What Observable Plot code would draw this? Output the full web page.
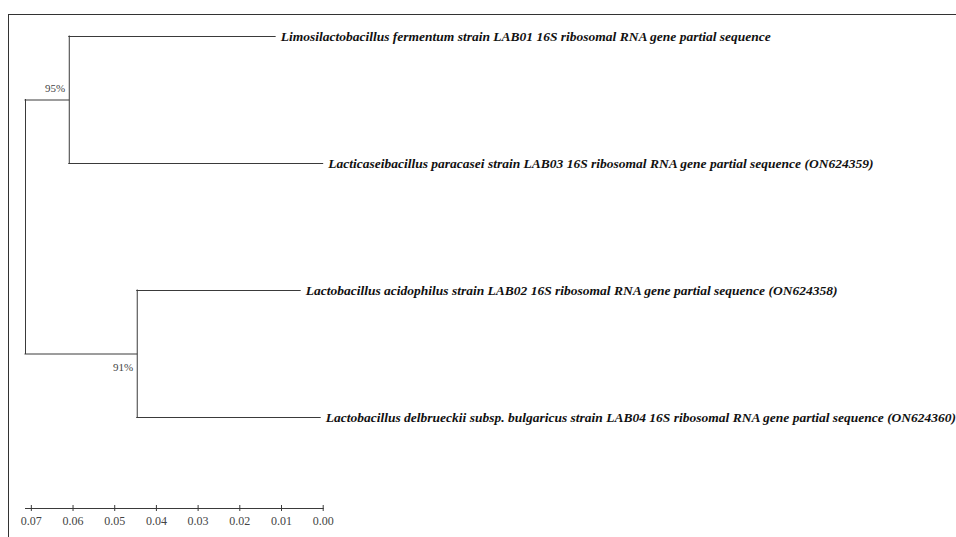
<!DOCTYPE html>
<html>
<head>
<meta charset="utf-8">
<script src="https://cdn.jsdelivr.net/npm/d3@7"></script>
<script src="https://cdn.jsdelivr.net/npm/@observablehq/plot@0.6"></script>
<style>
  html, body { margin: 0; padding: 0; background: #fff; }
  #wrap { position: relative; width: 956px; height: 537px; overflow: hidden; }
  #frame { position: absolute; left: 8px; top: 14px; right: -2px; bottom: -2px;
           border-top: 1px solid #333; border-left: 1px solid #333; }
  #chart { position: absolute; left: 0; top: 0; }
  #chart svg { display: block; }
</style>
</head>
<body>
<div id="wrap">
  <div id="frame"></div>
  <div id="chart"></div>
</div>
<script>
// Taxa in tree order (top to bottom)
const taxa = [
  "Limosilactobacillus fermentum strain LAB01 16S ribosomal RNA gene partial sequence",
  "Lacticaseibacillus paracasei strain LAB03 16S ribosomal RNA gene partial sequence (ON624359)",
  "Lactobacillus acidophilus strain LAB02 16S ribosomal RNA gene partial sequence (ON624358)",
  "Lactobacillus delbrueckii subsp. bulgaricus strain LAB04 16S ribosomal RNA gene partial sequence (ON624360)"
];
// Position of each tip on the distance scale
const tipDepth = [0.0114, 0.0000, 0.0054, 0.0006];
// Two clades: taxa 0–1 and taxa 2–3
const cladeMembers = [[0, 1], [2, 3]];
const cladeDepth = [0.0609, 0.0446];
const cladeSupport = ["95%", "91%"];
const rootDepth = 0.0714;
// Scale bar ticks
const scaleTicks = [0.07, 0.06, 0.05, 0.04, 0.03, 0.02, 0.01, 0.00];

// Build branch segments
const horiz = [];
const vert = [];
const nodes = [];
cladeMembers.forEach((members, c) => {
  const mid = d3.mean(members);
  members.forEach(i => horiz.push({x1: cladeDepth[c], x2: tipDepth[i], y: i}));
  vert.push({x: cladeDepth[c], y1: d3.min(members), y2: d3.max(members)});
  horiz.push({x1: rootDepth, x2: cladeDepth[c], y: mid});
  nodes.push({x: cladeDepth[c], y: mid, label: cladeSupport[c], c});
});
const cladeMids = cladeMembers.map(m => d3.mean(m));
vert.push({x: rootDepth, y1: d3.min(cladeMids), y2: d3.max(cladeMids)});

const tips = taxa.map((name, i) => ({name, x: tipDepth[i], y: i}));

const serif = "'Liberation Serif', 'Times New Roman', serif";
const lineColor = "#3a3a3a";

const chart = Plot.plot({
  width: 956,
  height: 537,
  marginLeft: 25,
  marginRight: 633.3,
  marginTop: 0,
  marginBottom: 29,
  style: {background: "transparent", overflow: "visible"},
  x: {domain: [rootDepth, 0], axis: null},
  y: {domain: [0, 3], range: [36, 417], axis: null},
  marks: [
    // branches
    Plot.ruleY(horiz, {x1: "x1", x2: "x2", y: "y", stroke: lineColor, strokeWidth: 1, strokeLinecap: "square"}),
    Plot.ruleX(vert, {x: "x", y1: "y1", y2: "y2", stroke: lineColor, strokeWidth: 1, strokeLinecap: "square"}),
    // taxon labels
    Plot.text(tips, {
      x: "x", y: "y", text: "name", textAnchor: "start", lineAnchor: "middle",
      dx: 5, fontFamily: serif, fontWeight: "bold", fontStyle: "italic",
      fontSize: 13.5, fill: "#111"
    }),
    // bootstrap support
    Plot.text(nodes.filter(d => d.c === 0), {
      x: "x", y: "y", text: "label", textAnchor: "end", lineAnchor: "middle",
      dx: -4, dy: -12, fontFamily: serif, fontSize: 11, fill: "#444"
    }),
    Plot.text(nodes.filter(d => d.c === 1), {
      x: "x", y: "y", text: "label", textAnchor: "end", lineAnchor: "middle",
      dx: -4, dy: 13, fontFamily: serif, fontSize: 11, fill: "#444"
    }),
    // scale bar
    Plot.frame({anchor: "bottom", stroke: lineColor, strokeWidth: 1}),
    Plot.axisX({
      anchor: "bottom", ticks: scaleTicks, tickSize: 6, dy: -3,
      tickFormat: () => "", label: null, stroke: lineColor
    }),
    Plot.axisX({
      anchor: "bottom", ticks: scaleTicks, tickSize: 0, tickPadding: 8,
      tickFormat: d3.format(".2f"), label: null,
      fontFamily: serif, fontSize: 12, fill: "#444"
    })
  ]
});

document.getElementById("chart").appendChild(chart);
</script>
</body>
</html>
